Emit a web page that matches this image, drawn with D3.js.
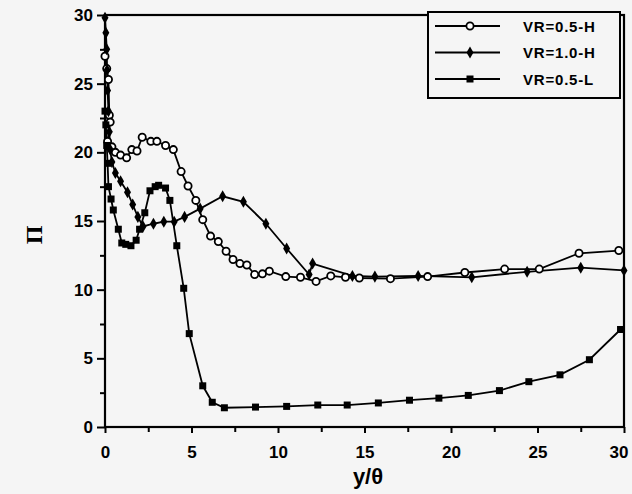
<!DOCTYPE html>
<html>
<head>
<meta charset="utf-8">
<script src="https://cdn.jsdelivr.net/npm/d3@7"></script>
<style>
  html, body { margin: 0; padding: 0; background: #f5f5f5; }
  svg { display: block; }
  .tick text { font-family: "Liberation Sans", Arial, sans-serif; font-weight: bold; font-size: 17px; fill: #000; }
</style>
</head>
<body>
<svg id="chart" width="632" height="494"></svg>
<script>
// Π profiles across y/θ for three VR cases
const seriesNames = ["VR=0.5-H", "VR=1.0-H", "VR=0.5-L"];

const vr05H = [
  [0, 27], [0.1, 26.1], [0.2, 25.3], [0.25, 22.7], [0.3, 22.2], [0.15, 20.8],
  [0.4, 20.4], [0.6, 20.0], [0.9, 19.8], [1.25, 19.6], [1.55, 20.2], [1.85, 20.1],
  [2.15, 21.1], [2.65, 20.8], [3.0, 20.8], [3.5, 20.5], [3.95, 20.2], [4.4, 18.6],
  [4.8, 17.55], [5.25, 16.5], [5.65, 15.1], [6.1, 13.9], [6.55, 13.5], [7.0, 12.8],
  [7.4, 12.2], [7.8, 11.9], [8.2, 11.8], [8.65, 11.1], [9.1, 11.15], [9.5, 11.35],
  [10.45, 10.95], [11.3, 10.9], [12.2, 10.6], [13.05, 11.0], [13.9, 10.9], [14.7, 10.85],
  [16.5, 10.8], [18.65, 10.95], [20.8, 11.25], [23.1, 11.5], [25.1, 11.5], [27.4, 12.65],
  [29.7, 12.85]
];

const vr10H = [
  [0, 29.8], [0.05, 28.7], [0.1, 27.5], [0.12, 26], [0.15, 24.5], [0.2, 23],
  [0.25, 21.5], [0.3, 20.2], [0.4, 19.3], [0.6, 18.5], [0.9, 17.9], [1.3, 17.1],
  [1.6, 16.2], [1.9, 15.3], [2.2, 14.6], [2.8, 14.8], [3.4, 14.95], [4.0, 14.95],
  [4.6, 15.3], [5.5, 15.9], [6.8, 16.8], [8.0, 16.4], [9.3, 14.8], [10.5, 13.0],
  [11.8, 11.1], [12.0, 11.9], [14.3, 11.0], [15.6, 10.95], [18.1, 11.0], [21.2, 10.9],
  [24.4, 11.3], [27.5, 11.6], [30, 11.4]
];

const vr05L = [
  [0, 23], [0.05, 22], [0.1, 20.5], [0.15, 19.2], [0.2, 17.5], [0.35, 16.6],
  [0.48, 15.8], [0.77, 14.4], [0.97, 13.4], [1.2, 13.3], [1.5, 13.2], [1.8, 13.6],
  [2.0, 14.4], [2.3, 15.6], [2.6, 17.2], [2.9, 17.5], [3.1, 17.6], [3.5, 17.4],
  [3.75, 16.5], [4.15, 13.2], [4.55, 10.1], [4.87, 6.8], [5.65, 3.0], [6.2, 1.8],
  [6.9, 1.4], [8.7, 1.45], [10.5, 1.5], [12.3, 1.6], [14.0, 1.6], [15.8, 1.75],
  [17.6, 1.95], [19.3, 2.1], [21.0, 2.3], [22.8, 2.65], [24.5, 3.3], [26.3, 3.8],
  [28.0, 4.9], [29.8, 7.1]
];

const majorTicks = [0, 5, 10, 15, 20, 25, 30];
const minorTicks = [2.5, 7.5, 12.5, 17.5, 22.5, 27.5];

const svg = d3.select("#chart");
const x = d3.scaleLinear().domain([0, 30]).range([105, 624]);
const y = d3.scaleLinear().domain([0, 30]).range([427, 15]);

// axes
const gx = svg.append("g").attr("transform", `translate(0,${y(0)})`)
  .call(d3.axisBottom(x).tickValues(majorTicks).tickSize(6).tickPadding(12).tickFormat(d3.format("d")));
const gxm = svg.append("g").attr("transform", `translate(0,${y(0)})`)
  .call(d3.axisBottom(x).tickValues(minorTicks).tickSize(5).tickFormat(""));
const gy = svg.append("g").attr("transform", `translate(${x(0)},0)`)
  .call(d3.axisLeft(y).tickValues(majorTicks).tickSize(8).tickPadding(4).tickFormat(d3.format("d")));
const gym = svg.append("g").attr("transform", `translate(${x(0)},0)`)
  .call(d3.axisLeft(y).tickValues(minorTicks).tickSize(5).tickFormat(""));
[gx, gxm, gy, gym].forEach(g => {
  g.select(".domain").remove();
  g.selectAll(".tick line").attr("stroke", "#000").attr("stroke-width", 2);
});
gx.selectAll(".tick text").attr("dy", "0.75em");
// keep the last label inside the page edge
gx.selectAll(".tick text").filter(d => d === 30).attr("text-anchor", "end").attr("dx", "4");

// frame
svg.append("rect")
  .attr("x", x(0)).attr("y", y(30))
  .attr("width", x(30) - x(0)).attr("height", y(0) - y(30))
  .attr("fill", "none").attr("stroke", "#000").attr("stroke-width", 2.2);

// markers
function drawMarker(g, kind, cx, cy) {
  if (kind === "circle") {
    g.append("circle").attr("cx", cx).attr("cy", cy).attr("r", 3.6)
      .attr("fill", "#fff").attr("stroke", "#000").attr("stroke-width", 1.8);
  } else if (kind === "diamond") {
    g.append("path").attr("d", d3.symbol().type(d3.symbolDiamond).size(42)())
      .attr("transform", `translate(${cx},${cy})`).attr("fill", "#000");
  } else {
    g.append("rect").attr("x", cx - 3.5).attr("y", cy - 3.5).attr("width", 7).attr("height", 7)
      .attr("fill", "#000");
  }
}

const series = [
  { data: vr05H, kind: "circle" },
  { data: vr10H, kind: "diamond" },
  { data: vr05L, kind: "square" }
];
const line = d3.line().x(d => x(d[0])).y(d => y(d[1]));

const plot = svg.append("g");
series.forEach(s => {
  plot.append("path").datum(s.data).attr("d", line)
    .attr("fill", "none").attr("stroke", "#000").attr("stroke-width", 1.8);
});
series.forEach(s => {
  const g = plot.append("g");
  s.data.forEach(d => drawMarker(g, s.kind, x(d[0]), y(d[1])));
});

// legend
const lg = svg.append("g");
lg.append("rect").attr("x", 428).attr("y", 12).attr("width", 192).attr("height", 86)
  .attr("fill", "#f5f5f5").attr("stroke", "#000").attr("stroke-width", 2);
seriesNames.forEach((name, i) => {
  const ly = 26 + i * 26.5;
  lg.append("line").attr("x1", 435).attr("x2", 500).attr("y1", ly).attr("y2", ly)
    .attr("stroke", "#000").attr("stroke-width", 1.8);
  drawMarker(lg, series[i].kind, 470, ly);
  lg.append("text").attr("x", 523).attr("y", ly + 5.5)
    .attr("font-family", "Liberation Sans, Arial, sans-serif").attr("font-weight", "bold")
    .attr("font-size", 15).attr("letter-spacing", 0.8).text(name);
});

// axis titles
svg.append("text").attr("x", 368).attr("y", 484).attr("text-anchor", "middle")
  .attr("font-family", "Liberation Sans, Arial, sans-serif").attr("font-weight", "bold")
  .attr("font-size", 22).text("y/θ");
svg.append("text").attr("transform", "translate(42,235) rotate(-90)").attr("text-anchor", "middle")
  .attr("font-family", "Liberation Serif, Times New Roman, serif").attr("font-weight", "bold")
  .attr("font-size", 24).text("Π");
</script>
</body>
</html>
